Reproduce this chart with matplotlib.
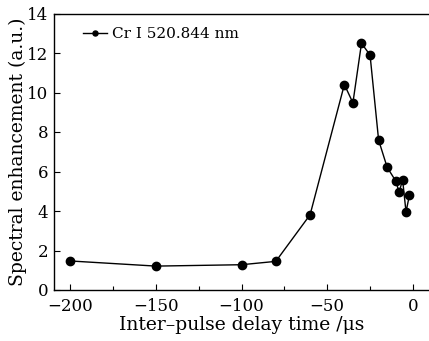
import matplotlib
matplotlib.use("Agg")
import matplotlib.pyplot as plt
from matplotlib.ticker import MultipleLocator

delay = [-200, -150, -100, -80, -60, -40, -35, -30, -25, -20, -15, -10, -8, -6, -4, -2]
enh = [1.47, 1.21, 1.28, 1.45, 3.81, 10.4, 9.48, 12.49, 11.9, 7.59, 6.21, 5.52, 4.95, 5.59, 3.95, 4.81]
label = "Cr I 520.844 nm"
xticks = [-200, -150, -100, -50, 0]
yticks = [0, 2, 4, 6, 8, 10, 12, 14]

plt.rcParams['font.family'] = ['DejaVu Serif']
plt.rcParams['mathtext.fontset'] = 'dejavuserif'

fig = plt.figure(figsize=(4.29, 3.41), dpi=100)
ax = fig.add_axes([54/429, 51/341, 376/429, 276.5/341])
ax.plot(delay, enh, color='black', lw=1.0, marker='o', ms=6, label=label)
ax.set_xlim(-209.5, 10)
ax.set_ylim(0, 14)
ax.set_xticks(xticks)
ax.set_xticklabels(['\u2212200', '\u2212150', '\u2212100', '\u221250', '0'])
ax.set_yticks(yticks)
ax.xaxis.set_minor_locator(MultipleLocator(25))
ax.tick_params(direction='in', labelsize=12, length=4, width=0.8)
ax.tick_params(which='minor', direction='in', length=3, width=0.8)
ax.tick_params(axis='x', pad=6)
ax.tick_params(axis='y', pad=4)
ax.spines['right'].set_visible(False)
for s in ax.spines.values():
    s.set_linewidth(1.0)
ax.set_xlabel('Inter\u2013pulse delay time /\u03bcs', fontsize=13.5, labelpad=0.5)
ax.set_ylabel('Spectral enhancement (a.u.)', fontsize=13.5, labelpad=0)
leg = ax.legend(loc='upper left', bbox_to_anchor=(0.04, 1.0), frameon=False, fontsize=11,
                handlelength=1.6, handletextpad=0.3, markerscale=0.6, borderaxespad=0.5)
fig.savefig('out.png', dpi=100)
